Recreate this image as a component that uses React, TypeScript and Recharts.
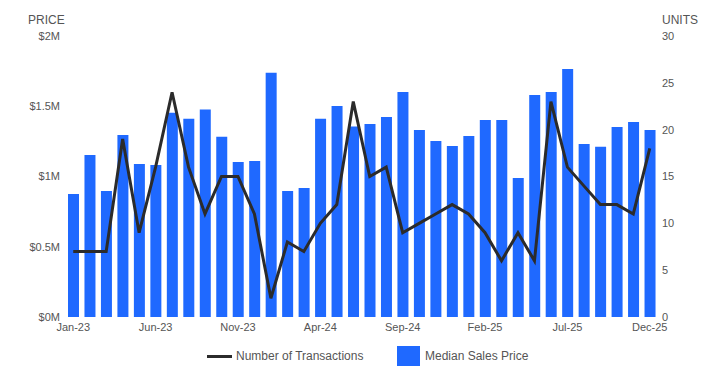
import { ComposedChart, Bar, Line, XAxis, YAxis } from 'recharts';

// Monthly market data, Jan-23 .. Dec-25
const months = [
  'Jan-23', 'Feb-23', 'Mar-23', 'Apr-23', 'May-23', 'Jun-23', 'Jul-23', 'Aug-23', 'Sep-23', 'Oct-23', 'Nov-23', 'Dec-23',
  'Jan-24', 'Feb-24', 'Mar-24', 'Apr-24', 'May-24', 'Jun-24', 'Jul-24', 'Aug-24', 'Sep-24', 'Oct-24', 'Nov-24', 'Dec-24',
  'Jan-25', 'Feb-25', 'Mar-25', 'Apr-25', 'May-25', 'Jun-25', 'Jul-25', 'Aug-25', 'Sep-25', 'Oct-25', 'Nov-25', 'Dec-25',
];

const medianPrice = [
  875000, 1153000, 897000, 1295000, 1089000, 1082000, 1454000, 1411000, 1476000, 1283000, 1103000, 1110000,
  1739000, 897000, 918000, 1411000, 1502000, 1355000, 1374000, 1423000, 1601000, 1331000, 1253000, 1217000,
  1288000, 1402000, 1402000, 989000, 1580000, 1601000, 1765000, 1231000, 1212000, 1352000, 1388000, 1331000,
];

const transactions = [
  7, 7, 7, 19, 9, 16, 24, 16, 11, 15, 15, 11,
  2, 8, 7, 10, 12, 23, 15, 16, 9, 10, 11, 12,
  11, 9, 6, 9, 6, 23, 16, 14, 12, 12, 11, 18,
];

const priceTicks = [0, 500000, 1000000, 1500000, 2000000];
const unitTicks = [0, 5, 10, 15, 20, 25, 30];

const BLUE = '#1f69ff';
const DARK = '#2b2b2b';
const TEXT = '#555';
const FONT = '"Liberation Sans", Arial, sans-serif';

const chartData = months.map((m, i) => ({
  month: m,
  price: medianPrice[i],
  units: transactions[i],
}));

function formatPrice(v: number): string {
  return `$${v / 1000000}M`;
}

export default function App() {
  const tick = { fill: TEXT, fontSize: 11, fontFamily: FONT };

  return (
    <div style={{ position: 'absolute', left: 0, top: 0, width: 727, height: 378, fontFamily: FONT }}>
      <div style={{ position: 'absolute', left: 28, top: 13, fontSize: 12, color: TEXT }}>PRICE</div>
      <div style={{ position: 'absolute', left: 662, top: 13, fontSize: 12, color: TEXT }}>UNITS</div>

      <ComposedChart
        width={727}
        height={378}
        data={chartData}
        margin={{ top: 36, right: 0, left: 0, bottom: 31 }}
      >
        <XAxis
          dataKey="month"
          interval={4}
          axisLine={false}
          tickLine={false}
          tickSize={0}
          tickMargin={6}
          height={30}
          tick={tick}
        />
        <YAxis
          yAxisId="price"
          orientation="left"
          width={65}
          domain={[0, 2000000]}
          ticks={priceTicks}
          tickFormatter={formatPrice}
          axisLine={false}
          tickLine={false}
          tickSize={0}
          tickMargin={5}
          tick={tick}
        />
        <YAxis
          yAxisId="units"
          orientation="right"
          width={69}
          domain={[0, 30]}
          ticks={unitTicks}
          axisLine={false}
          tickLine={false}
          tickSize={0}
          tickMargin={4}
          tick={{ ...tick, textAnchor: 'start' }}
        />

        {/* Precio mediano */}
        <Bar
          yAxisId="price"
          dataKey="price"
          fill={BLUE}
          barSize={11}
          isAnimationActive={false}
          name="Median Sales Price"
        />

        {/* Número de transacciones */}
        <Line
          yAxisId="units"
          type="linear"
          dataKey="units"
          stroke={DARK}
          strokeWidth={3}
          dot={false}
          activeDot={false}
          isAnimationActive={false}
          name="Number of Transactions"
        />
      </ComposedChart>

      {/* Leyenda */}
      <div
        style={{
          position: 'absolute',
          left: 0,
          top: 346,
          width: 727,
          height: 20,
          fontSize: 12,
          color: TEXT,
        }}
      >
        <div style={{ position: 'absolute', left: 207, top: 9, width: 25, height: 3, background: DARK }} />
        <span style={{ position: 'absolute', left: 236, top: 3 }}>Number of Transactions</span>
        <div style={{ position: 'absolute', left: 397, top: 0, width: 23, height: 20, background: BLUE }} />
        <span style={{ position: 'absolute', left: 425, top: 3 }}>Median Sales Price</span>
      </div>
    </div>
  );
}
